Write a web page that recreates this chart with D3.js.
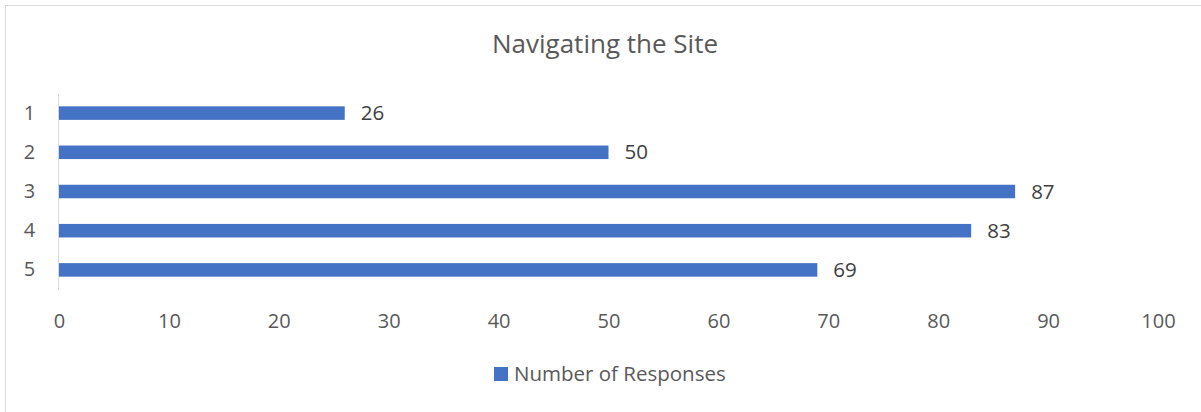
<!DOCTYPE html>
<html>
<head>
    <meta charset="UTF-8">
    <title>Navigating the Site</title>
    <script src="https://d3js.org/d3.v7.min.js"></script>
    <style>
        body { margin: 0; background: #ffffff; }
        svg text { font-family: "Open Sans", "Noto Sans", sans-serif; }
    </style>
</head>
<body>
    <svg id="chart"></svg>
    <script>
        // data
        const categories = ['1', '2', '3', '4', '5'];
        const responses = [26, 50, 87, 83, 69];
        const xTicks = [0, 10, 20, 30, 40, 50, 60, 70, 80, 90, 100];
        const seriesName = 'Number of Responses';
        const chartTitle = 'Navigating the Site';

        const W = 1201, H = 412;
        const svg = d3.select('#chart').attr('width', W).attr('height', H);

        // chart frame (only top and left edges are visible)
        svg.append('rect')
            .attr('x', 5.5).attr('y', 5.5)
            .attr('width', W + 10).attr('height', H + 10)
            .attr('fill', 'none')
            .attr('stroke', '#d9d9d9');

        svg.append('text')
            .attr('x', 605).attr('y', 53)
            .attr('text-anchor', 'middle')
            .attr('font-size', 26)
            .attr('fill', '#595959')
            .text(chartTitle);

        const x = d3.scaleLinear().domain([0, 100]).range([59, 1158]);
        const y = d3.scaleBand().domain(categories).range([93.5, 289.5])
            .paddingInner(0.655).paddingOuter(0.3275);

        // x axis labels, no line
        const xAxis = svg.append('g')
            .attr('transform', 'translate(0,321)')
            .call(d3.axisBottom(x).tickValues(xTicks).tickSize(0).tickPadding(0));
        xAxis.select('.domain').remove();
        xAxis.selectAll('text')
            .attr('y', 0)
            .attr('dy', '0.35em')
            .attr('font-size', 20)
            .attr('fill', '#595959');

        // category axis
        const yAxis = svg.append('g')
            .attr('transform', 'translate(58.5,0)')
            .call(d3.axisLeft(y).tickSize(0).tickPadding(29));
        yAxis.select('.domain')
            .attr('stroke', '#d9d9d9')
            .attr('d', 'M0,94V290');
        yAxis.selectAll('text')
            .attr('font-size', 20)
            .attr('fill', '#595959')
            .attr('text-anchor', 'middle');

        svg.selectAll('.bar')
            .data(responses)
            .enter().append('rect')
            .attr('class', 'bar')
            .attr('x', x(0))
            .attr('y', (d, i) => y(categories[i]))
            .attr('width', d => x(d) - x(0))
            .attr('height', y.bandwidth())
            .attr('fill', '#4472c4');

        svg.selectAll('.label')
            .data(responses)
            .enter().append('text')
            .attr('class', 'label')
            .attr('x', d => x(d) + 16)
            .attr('y', (d, i) => y(categories[i]) + y.bandwidth() / 2)
            .attr('dy', '0.35em')
            .attr('font-size', 20.5)
            .attr('fill', '#404040')
            .text(d => d);

        // legend
        const legend = svg.append('g').attr('transform', 'translate(494,367)');
        legend.append('rect')
            .attr('width', 14).attr('height', 14)
            .attr('fill', '#4472c4');
        legend.append('text')
            .attr('x', 20).attr('y', 7)
            .attr('dy', '0.35em')
            .attr('font-size', 20.5)
            .attr('fill', '#595959')
            .text(seriesName);
    </script>
</body>
</html>
